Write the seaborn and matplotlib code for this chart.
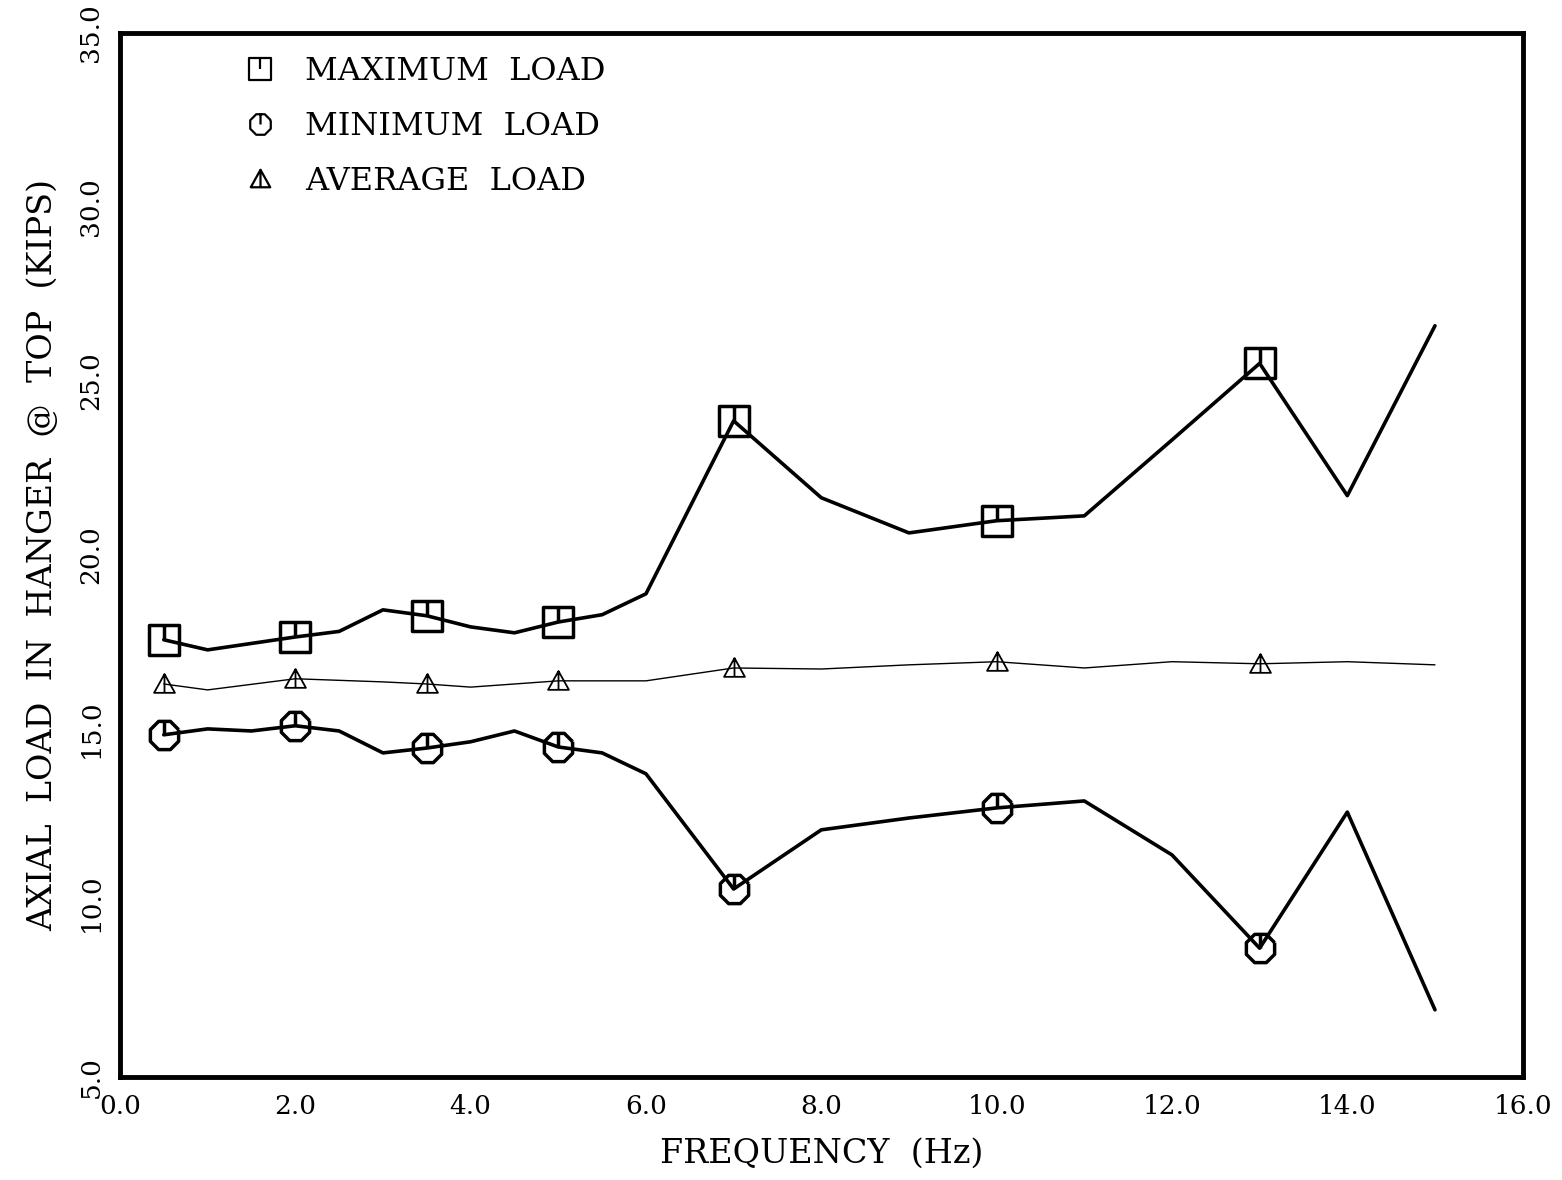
import numpy as np
import pandas as pd
import seaborn as sns
import matplotlib.pyplot as plt
from matplotlib.path import Path
from matplotlib.lines import Line2D

# frequency points along each curve
freq_max = [0.5, 1.0, 2.0, 2.5, 3.0, 3.5, 4.0, 4.5, 5.0, 5.5, 6.0, 7.0, 8.0, 9.0, 10.0, 11.0, 12.0, 13.0, 14.0, 15.0]
load_max = [17.56, 17.27, 17.64, 17.80, 18.42, 18.25, 17.93, 17.76, 18.07, 18.28, 18.88, 23.85, 21.64, 20.63, 20.98, 21.12, 23.30, 25.50, 21.70, 26.58]

freq_min = [0.5, 1.0, 1.5, 2.0, 2.5, 3.0, 3.5, 4.0, 4.5, 5.0, 5.5, 6.0, 7.0, 8.0, 9.0, 10.0, 11.0, 12.0, 13.0, 14.0, 15.0]
load_min = [14.83, 15.00, 14.94, 15.09, 14.94, 14.31, 14.45, 14.63, 14.94, 14.48, 14.31, 13.71, 10.40, 12.10, 12.44, 12.73, 12.93, 11.38, 8.70, 12.61, 6.93]

freq_avg = [0.5, 1.0, 2.0, 3.0, 3.5, 4.0, 5.0, 6.0, 7.0, 8.0, 9.0, 10.0, 11.0, 12.0, 13.0, 14.0, 15.0]
load_avg = [16.29, 16.12, 16.44, 16.35, 16.29, 16.20, 16.38, 16.38, 16.75, 16.72, 16.84, 16.93, 16.75, 16.93, 16.87, 16.93, 16.84]

# frequencies where symbols were drawn
marked_freq = [0.5, 2.0, 3.5, 5.0, 7.0, 10.0, 13.0]

df_max = pd.DataFrame({"freq": freq_max, "load": load_max})
df_min = pd.DataFrame({"freq": freq_min, "load": load_min})
df_avg = pd.DataFrame({"freq": freq_avg, "load": load_avg})

sns.set_style("white")
plt.rcParams["font.family"] = ["DejaVu Serif"]
plt.rcParams["text.color"] = "black"
plt.rcParams["axes.labelcolor"] = "black"
plt.rcParams["xtick.color"] = "black"
plt.rcParams["ytick.color"] = "black"

# symbols with a little tick from the top down to the centre
sq_verts = [(-1, -1), (1, -1), (1, 1), (-1, 1), (-1, -1), (0, 1), (0, 0)]
sq_codes = [Path.MOVETO, Path.LINETO, Path.LINETO, Path.LINETO, Path.CLOSEPOLY, Path.MOVETO, Path.LINETO]
sq_marker = Path(sq_verts, sq_codes)
ang = np.linspace(np.pi / 8, 2 * np.pi + np.pi / 8, 9)
oc_verts = [(np.cos(a), np.sin(a)) for a in ang] + [(0, 1), (0, 0)]
oc_codes = [Path.MOVETO] + [Path.LINETO] * 8 + [Path.MOVETO, Path.LINETO]
oc_marker = Path(oc_verts, oc_codes)
tr_verts = [(-1, -0.8), (1, -0.8), (0, 1), (-1, -0.8), (0, 1), (0, -0.8)]
tr_codes = [Path.MOVETO, Path.LINETO, Path.LINETO, Path.CLOSEPOLY, Path.MOVETO, Path.LINETO]
tr_marker = Path(tr_verts, tr_codes)

fig = plt.figure(figsize=(15.62, 11.80), dpi=100)
ax = fig.add_axes([0.0768, 0.0873, 0.898, 0.885])

sns.lineplot(data=df_max, x="freq", y="load", ax=ax, color="black", lw=2.6)
sns.lineplot(data=df_min, x="freq", y="load", ax=ax, color="black", lw=2.6)
sns.lineplot(data=df_avg, x="freq", y="load", ax=ax, color="black", lw=1.0)

def marks(df):
    return df[df["freq"].isin(marked_freq)]

ax.plot(marks(df_max)["freq"], marks(df_max)["load"], ls="none", marker=sq_marker,
        ms=22, mfc="none", mec="black", mew=2.5)
ax.plot(marks(df_min)["freq"], marks(df_min)["load"], ls="none", marker=oc_marker,
        ms=22, mfc="none", mec="black", mew=2.5)
ax.plot(marks(df_avg)["freq"], marks(df_avg)["load"], ls="none", marker=tr_marker,
        ms=15, mfc="none", mec="black", mew=1.3)

ax.set_xlim(0, 16)
ax.set_ylim(5, 35)
ax.set_xticks(np.arange(0, 16.1, 2))
ax.set_yticks(np.arange(5, 35.1, 5))
ax.set_xticklabels([f"{v:.1f}" for v in np.arange(0, 16.1, 2)])
ax.set_yticklabels([f"{v:.1f}" for v in np.arange(5, 35.1, 5)], rotation=90, va="center")
ax.tick_params(direction="in", length=12, width=1.5, labelsize=19, pad=12)
for s in ax.spines.values():
    s.set_linewidth(3.5)
    s.set_color("black")

ax.set_xlabel("FREQUENCY  (Hz)", fontsize=24, labelpad=14)
ax.set_ylabel("AXIAL  LOAD  IN  HANGER  @  TOP  (KIPS)", fontsize=24, labelpad=14)

handles = [
    Line2D([], [], ls="none", marker=sq_marker, ms=16, mfc="none", mec="black", mew=1.6),
    Line2D([], [], ls="none", marker=oc_marker, ms=16, mfc="none", mec="black", mew=1.6),
    Line2D([], [], ls="none", marker=tr_marker, ms=14, mfc="none", mec="black", mew=1.6),
]
labels = ["MAXIMUM  LOAD", "MINIMUM  LOAD", "AVERAGE  LOAD"]
ax.legend(handles, labels, loc="upper left", bbox_to_anchor=(0.068, 1.005), frameon=False,
          fontsize=23, handlelength=1.0, handletextpad=0.9, labelspacing=0.75)

fig.savefig("out.png", dpi=100)
